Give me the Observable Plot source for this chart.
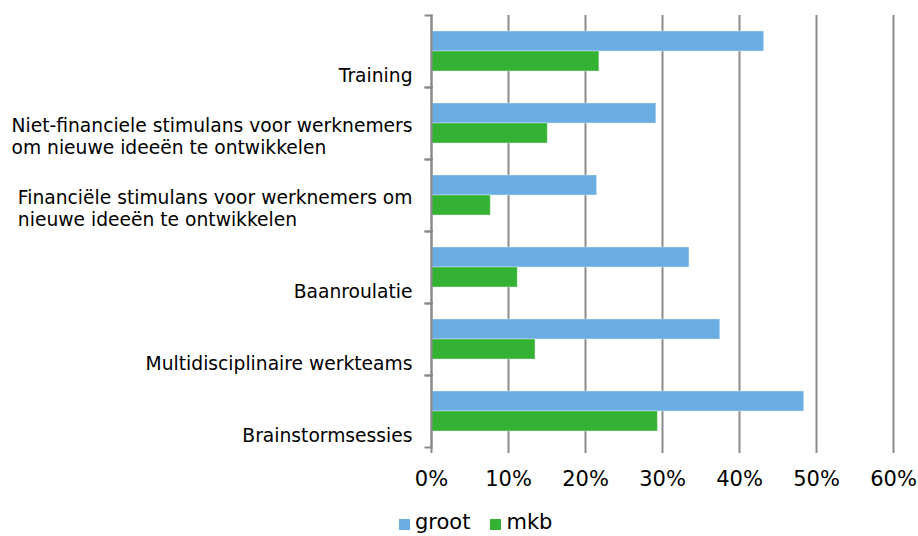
<!DOCTYPE html>
<html>
<head>
<meta charset="utf-8">
<script src="https://cdn.jsdelivr.net/npm/d3@7"></script>
<script src="https://cdn.jsdelivr.net/npm/@observablehq/plot@0.6"></script>
<style>
  html, body { margin: 0; padding: 0; background: #fff; }
  #chart svg { display: block; }
  #legend { height: 36px; box-sizing: border-box; padding-top: 12px; padding-left: 399px; display: flex; align-items: flex-start;
            font-family: 'DejaVu Sans', Verdana, sans-serif; font-size: 21px; line-height: 21px; color: #000; }
  .item { display: flex; align-items: flex-start; margin-right: 20px; }
  .sw { width: 11px; height: 11px; margin-top: 7px; margin-right: 5px; }
</style>
</head>
<body>
<div id="chart"></div>
<div id="legend"></div>
<script>
// ---- data ----
const categories = ["Training", "Niet-financiele stimulans", "Financiële stimulans", "Baanroulatie", "Multidisciplinaire werkteams", "Brainstormsessies"];
const labelLines = [
  ["Training"],
  ["Niet-financiele stimulans voor werknemers", "om nieuwe ideeën te ontwikkelen"],
  ["Financiële stimulans voor werknemers om", "nieuwe ideeën te ontwikkelen"],
  ["Baanroulatie"],
  ["Multidisciplinaire werkteams"],
  ["Brainstormsessies"]
];
const series = ["groot", "mkb"];
const groot = [0.432, 0.292, 0.215, 0.335, 0.375, 0.484];
const mkb = [0.218, 0.151, 0.077, 0.112, 0.135, 0.294];
const xTicks = [0, 0.1, 0.2, 0.3, 0.4, 0.5, 0.6];
const colors = ["#6aade3", "#34b233"];

// ---- layout ----
const W = 918, H = 500, mL = 431, mR = 25, mT = 15, mB = 53;
const plotW = W - mL - mR;
const gray = "#8a8a8a";
const labelFont = 18.7;

const data = categories.flatMap((c, i) => [
  {cat: c, series: series[0], value: groot[i]},
  {cat: c, series: series[1], value: mkb[i]}
]);

const ctx = document.createElement("canvas").getContext("2d");
ctx.font = `${labelFont}px 'DejaVu Sans'`;
const labelMarks = categories.map((c, i) => {
  const w = d3.max(labelLines[i], l => ctx.measureText(l).width);
  return Plot.text([{cat: c, text: labelLines[i].join("\n")}], {
    fy: "cat", text: "text", frameAnchor: "bottom-left", textAnchor: "start",
    lineAnchor: "bottom", lineHeight: 22 / labelFont, dx: -19 - w, dy: -6,
    fontSize: labelFont, fill: "#000"
  });
});

const chart = Plot.plot({
  width: W, height: H,
  marginLeft: mL, marginRight: mR, marginTop: mT, marginBottom: mB,
  style: {fontFamily: "'DejaVu Sans', Verdana, sans-serif", fontSize: "18px", color: "#000", background: "#fff"},
  x: {domain: [0, 0.6], axis: null, label: null},
  y: {domain: series, axis: null, paddingInner: 0, paddingOuter: 0.77},
  fy: {domain: categories, axis: null, paddingInner: 0, paddingOuter: 0},
  color: {domain: series, range: colors},
  marks: [
    Plot.gridX(xTicks, {stroke: gray, strokeOpacity: 1, strokeWidth: 2}),
    Plot.barX(data, {fy: "cat", y: "series", x: "value", fill: "series", stroke: "white", strokeOpacity: 0.35, strokeWidth: 1}),
    Plot.frame({anchor: "left", stroke: gray, strokeWidth: 2}),
    Plot.frame({anchor: "top", stroke: gray, strokeWidth: 2, insetLeft: -6, insetRight: plotW}),
    Plot.frame({anchor: "bottom", stroke: gray, strokeWidth: 2, insetLeft: -6, insetRight: plotW}),
    Plot.axisX(xTicks, {anchor: "bottom", label: null, tickFormat: d3.format(".0%"), tickSize: 6, tickPadding: 18,
      fontSize: 21, stroke: gray, strokeWidth: 2, fill: "#000"}),
    ...labelMarks
  ]
});
document.getElementById("chart").appendChild(chart);

const legend = document.getElementById("legend");
series.forEach((s, i) => {
  const item = document.createElement("div");
  item.className = "item";
  const sw = document.createElement("span");
  sw.className = "sw";
  sw.style.background = colors[i];
  const t = document.createElement("span");
  t.textContent = s;
  item.appendChild(sw);
  item.appendChild(t);
  legend.appendChild(item);
});
</script>
</body>
</html>
